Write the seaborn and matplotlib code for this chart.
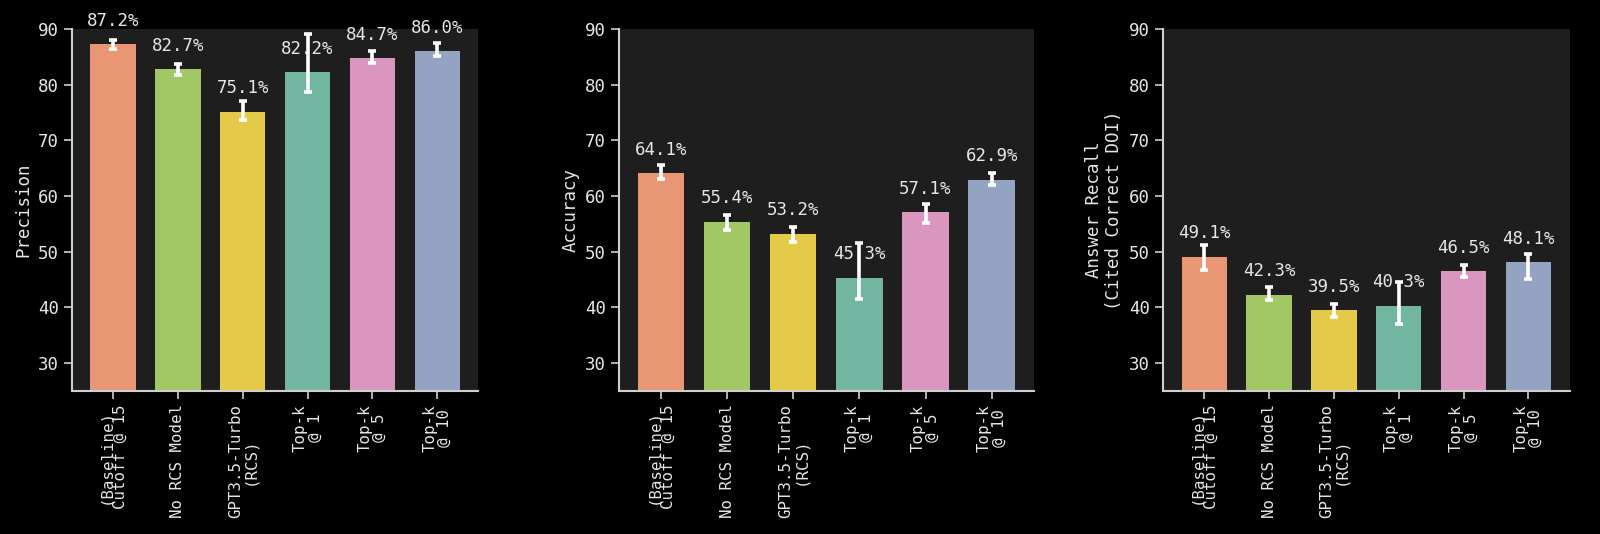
import numpy as np
import pandas as pd
import seaborn as sns
from matplotlib import pyplot as plt

categories = ['(Baseline)\nCutoff @ 15', 'No RCS Model', 'GPT3.5-Turbo\n(RCS)',
              'Top-k\n@ 1', 'Top-k\n@ 5', 'Top-k\n@ 10']

precision = [87.2, 82.7, 75.1, 82.2, 84.7, 86.0]
precision_lo = [86.3, 81.8, 73.7, 78.6, 83.8, 85.1]
precision_hi = [88.0, 83.6, 77.1, 89.0, 86.1, 87.4]

accuracy = [64.1, 55.4, 53.2, 45.3, 57.1, 62.9]
accuracy_lo = [63.1, 53.9, 51.8, 41.5, 55.1, 61.9]
accuracy_hi = [65.6, 56.6, 54.5, 51.6, 58.6, 64.2]

recall = [49.1, 42.3, 39.5, 40.3, 46.5, 48.1]
recall_lo = [46.7, 41.3, 38.2, 37.0, 45.4, 45.1]
recall_hi = [51.2, 43.7, 40.6, 44.5, 47.6, 49.6]

ylabels = ['Precision', 'Accuracy', 'Answer Recall\n(Cited Correct DOI)']

set2 = sns.color_palette('Set2')
palette = [set2[1], set2[4], set2[5], set2[0], set2[3], set2[2]]

sns.set_theme(style='ticks')
fg = '#e6e6e6'
plt.rcParams.update({
    'font.family': ['DejaVu Sans Mono'],
    'figure.facecolor': 'black',
    'axes.facecolor': '#1e1e1e',
    'axes.edgecolor': '#cfcfcf',
    'axes.labelcolor': fg,
    'text.color': fg,
    'xtick.color': '#cfcfcf',
    'ytick.color': '#cfcfcf',
    'xtick.labelcolor': fg,
    'ytick.labelcolor': fg,
    'axes.linewidth': 1.5,
})

fig, axes = plt.subplots(1, 3, figsize=(16, 5.34), dpi=100)
positions = [(0.045, 0.268, 0.254, 0.678),
             (0.387, 0.268, 0.259, 0.678),
             (0.727, 0.268, 0.254, 0.678)]

panels = [(precision, precision_lo, precision_hi),
          (accuracy, accuracy_lo, accuracy_hi),
          (recall, recall_lo, recall_hi)]

for ax, (vals, lo, hi), ylab, pos in zip(axes, panels, ylabels, positions):
    df = pd.DataFrame({'method': categories, 'value': vals})
    sns.barplot(data=df, x='method', y='value', hue='method', palette=palette,
                width=0.7, legend=False, linewidth=0, ax=ax)
    xs = [p.get_x() + p.get_width() / 2 for p in ax.patches]
    err = np.array([np.array(vals) - np.array(lo), np.array(hi) - np.array(vals)])
    ax.errorbar(xs, vals, yerr=err, fmt='none', ecolor='white', elinewidth=2.6,
                capsize=3, capthick=2.6, zorder=5)
    for x, v in zip(xs, vals):
        ax.text(x, v + 4.2, f'{v:.1f}%', ha='center', va='center', fontsize=12.5,
                color=fg, clip_on=False)
    ax.set_ylim(25, 90)
    ax.set_yticks([30, 40, 50, 60, 70, 80, 90])
    ax.set_xlabel('')
    ax.set_ylabel(ylab, fontsize=12.5)
    ax.tick_params(axis='y', labelsize=12.5, length=6, width=1.2)
    ax.tick_params(axis='x', labelsize=11.3, length=6, width=1.2)
    for lab in ax.get_xticklabels():
        lab.set_rotation(90)
        lab.set_linespacing(0.95)
    sns.despine(ax=ax)
    ax.set_position(pos)

fig.savefig('out.png', dpi=100, facecolor='black')
